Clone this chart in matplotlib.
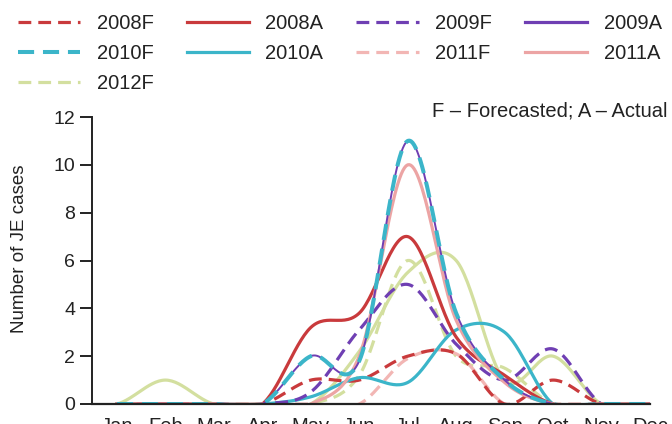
import numpy as np
import matplotlib
matplotlib.use("Agg")
import matplotlib.pyplot as plt

plt.rcParams['font.family'] = ['Liberation Sans', 'DejaVu Sans']

months = ['Jan', 'Feb', 'Mar', 'Apr', 'May', 'Jun', 'Jul', 'Aug', 'Sep', 'Oct', 'Nov', 'Dec']
f2008 = [0, 0, 0, 0, 1.0, 1.0, 2.0, 2.1, 0, 1.0, 0, 0]
a2008 = [0, 0, 0, 0, 3.2, 3.8, 7.0, 2.8, 1.2, 0, 0, 0]
f2009 = [0, 0, 0, 0, 0.5, 3.1, 5.0, 2.5, 1.0, 2.3, 0, 0]
a2009 = [0, 0, 0, 0, 2.0, 1.8, 11.0, 3.8, 1.0, 0, 0, 0]
f2010 = [0, 0, 0, 0, 2.0, 1.8, 11.0, 3.8, 1.0, 0, 0, 0]
a2010 = [0, 0, 0, 0, 0.3, 1.1, 0.9, 3.1, 3.0, 0, 0, 0]
f2011 = [0, 0, 0, 0, 0, 0, 1.9, 2.1, 0, 0, 0, 0]
a2011 = [0, 0, 0, 0, 0, 2.0, 10.0, 3.5, 0.9, 0, 0, 0]
f2012 = [0, 0, 0, 0, 0, 1.2, 6.0, 2.0, 1.5, 0, 0, 0]
a2012 = [0, 1.0, 0, 0, 0, 2.2, 5.5, 6.0, 1.0, 2.0, 0, 0]

RED = '#c93a3c'
CYAN = '#3bb5c9'
PURPLE = '#6f3fb3'
PINK_F = '#f2b6b4'
PINK_A = '#eca4a4'
GREEN = '#d3df9f'


def smooth(y, n=30):
    """Catmull-Rom style smoothing (like spreadsheet 'smoothed line')."""
    y = np.asarray(y, dtype=float)
    x = np.arange(len(y), dtype=float)
    ext = np.concatenate([[y[0]], y, [y[-1]]])
    xs, ys = [], []
    for i in range(len(y) - 1):
        p0, p1, p2, p3 = ext[i], ext[i + 1], ext[i + 2], ext[i + 3]
        m1 = (p2 - p0) / 2.0
        m2 = (p3 - p1) / 2.0
        t = np.linspace(0, 1, n, endpoint=False)
        h00 = 2 * t**3 - 3 * t**2 + 1
        h10 = t**3 - 2 * t**2 + t
        h01 = -2 * t**3 + 3 * t**2
        h11 = t**3 - t**2
        ys.append(h00 * p1 + h10 * m1 + h01 * p2 + h11 * m2)
        xs.append(x[i] + t)
    xs.append([x[-1]])
    ys.append([y[-1]])
    return np.concatenate(xs), np.concatenate(ys)


W, H = 672, 424
fig = plt.figure(figsize=(W / 100, H / 100), dpi=100)
ax = fig.add_axes([92 / W, (H - 404) / H, (650 - 92) / W, (404 - 117) / H])

lw = 2.3
dash = (4, 2.2)
series = [
    (a2012, GREEN, '-', None),
    (f2012, GREEN, '--', '2012F'),
    (f2011, PINK_F, '--', '2011F'),
    (f2008, RED, '--', '2008F'),
    (a2010, CYAN, '-', '2010A'),
    (f2009, PURPLE, '--', '2009F'),
    (a2008, RED, '-', '2008A'),
    (a2011, PINK_A, '-', '2011A'),
    (a2009, PURPLE, '-', '2009A'),
    (f2010, CYAN, '--', '2010F'),
]
handles = {}
for vals, col, ls, lab in series:
    xs, ys = smooth(vals)
    if ls == '--':
        ln, = ax.plot(xs, ys, color=col, lw=lw + (0.6 if lab == '2010F' else 0),
                      dashes=dash, label=lab)
    else:
        ln, = ax.plot(xs, ys, color=col, lw=(1.4 if lab == '2009A' else lw), label=lab)
    if lab:
        handles[lab] = ln

ax.set_xlim(-0.515, 11)
ax.set_ylim(0, 12)
ax.set_yticks(range(0, 13, 2))
ax.set_xticks(range(12))
ax.set_xticklabels(months)
for s in ['top', 'right']:
    ax.spines[s].set_visible(False)
ax.spines['left'].set_linewidth(1.4)
ax.spines['bottom'].set_linewidth(1.6)
ax.spines['left'].set_color('#222222')
ax.spines['bottom'].set_color('#222222')
ax.tick_params(axis='y', length=9, width=1.4, color='#222222', labelsize=14, pad=3,
               labelcolor='#222222')
ax.tick_params(axis='x', length=0, labelsize=14.5, pad=9, labelcolor='#222222')
ax.set_ylabel('Number of JE cases', fontsize=13.5, color='#222222')
ax.yaxis.set_label_coords(-0.115, 0.54)

order = ['2008F', '2010F', '2012F', '2008A', '2010A', '2009F', '2011F', '2009A', '2011A']
leg_handles = []
for k in order:
    h = handles[k]
    if k == '2009A':
        h = plt.Line2D([], [], color=PURPLE, lw=lw)
    leg_handles.append(h)
fig.legend(leg_handles, order, ncol=4, loc='upper left',
           bbox_to_anchor=(18 / W, 1 - 14 / H), frameon=False, fontsize=14.5,
           handlelength=3.1, handletextpad=0.8, columnspacing=1.65,
           labelspacing=0.55, borderpad=0, borderaxespad=0, labelcolor='#222222')

fig.text(668 / W, 1 - 111 / H, 'F \u2013 Forecasted; A \u2013 Actual', ha='right',
         va='center', fontsize=14.5, color='#222222')

fig.savefig('out.png', dpi=100)
